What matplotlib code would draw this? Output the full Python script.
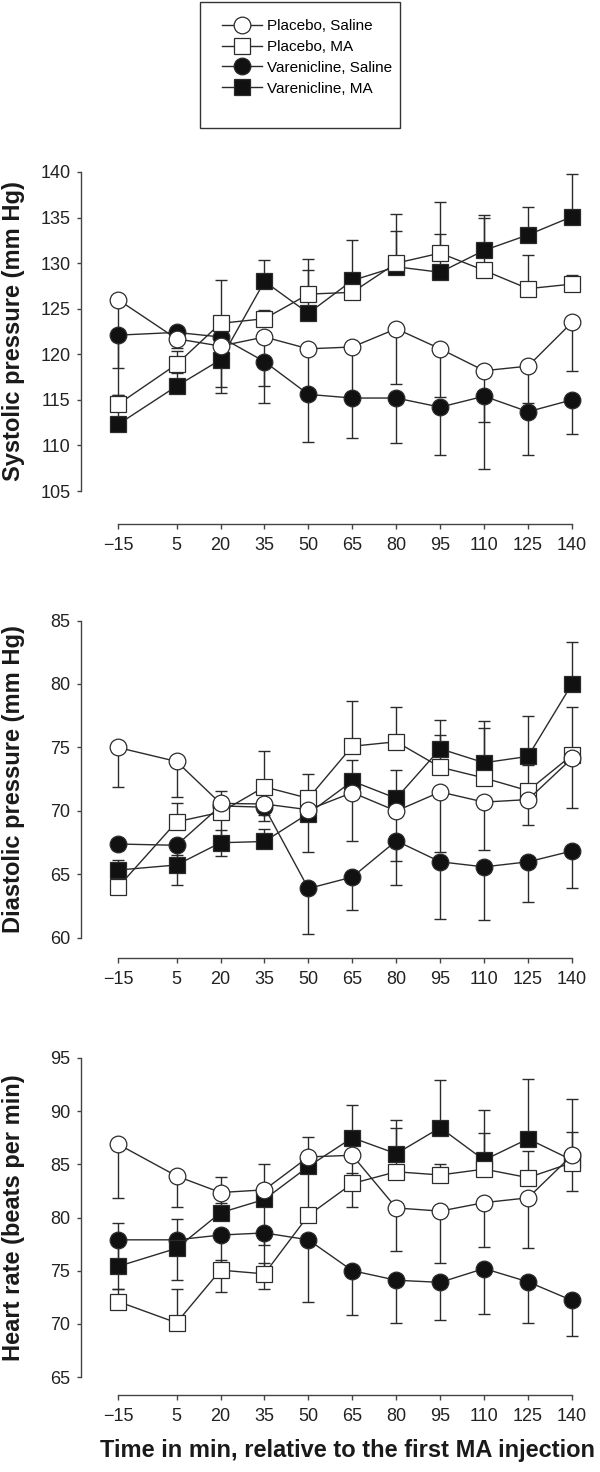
import numpy as np
import matplotlib
matplotlib.use("Agg")
import matplotlib.pyplot as plt
from matplotlib.lines import Line2D
from matplotlib.patches import Rectangle

plt.rcParams['font.family'] = ['Liberation Sans', 'DejaVu Sans']

# ---------------- data ----------------
time = [-15, 5, 20, 35, 50, 65, 80, 95, 110, 125, 140]
labels = ["Placebo, Saline", "Placebo, MA", "Varenicline, Saline", "Varenicline, MA"]

# systolic pressure (mm Hg)
sys_ps = [126.0, 121.7, 120.9, 121.9, 120.6, 120.8, 122.8, 120.6, 118.2, 118.7, 123.5]
sys_ps_err = [7.5, 1.0, 4.5, 5.4, 5.0, 5.0, 6.1, 5.3, 5.6, 4.0, 5.3]
sys_pm = [114.5, 118.9, 123.4, 123.9, 126.6, 126.8, 130.0, 131.1, 129.2, 127.2, 127.7]
sys_pm_err = [1.0, 1.5, 4.75, 1.0, 3.8, 1.0, 3.5, 5.65, 5.7, 3.7, 1.0]
sys_vs = [122.1, 122.4, 121.9, 119.2, 115.6, 115.2, 115.2, 114.2, 115.4, 113.7, 115.0]
sys_vs_err = [6.6, 1.0, 6.2, 4.5, 5.2, 4.4, 4.9, 5.2, 8.0, 4.8, 3.8]
sys_vm = [112.3, 116.5, 119.4, 128.0, 124.5, 128.1, 129.6, 129.0, 131.4, 133.1, 135.1]
sys_vm_err = [1.5, 1.5, 1.5, 2.3, 4.75, 4.4, 5.8, 4.2, 3.9, 3.1, 4.65]

# diastolic pressure (mm Hg)
dia_ps = [75.0, 73.9, 70.6, 70.55, 70.1, 71.45, 70.0, 71.5, 70.7, 70.9, 74.15]
dia_ps_err = [3.1, 2.8, 0.5, 0.85, 3.3, 3.85, 3.9, 4.7, 3.8, 2.0, 3.95]
dia_pm = [64.0, 69.15, 69.9, 71.9, 71.0, 75.1, 75.45, 73.45, 72.6, 71.6, 74.4]
dia_pm_err = [0.5, 1.45, 1.7, 2.8, 1.9, 3.6, 2.75, 2.55, 3.9, 2.0, 3.8]
dia_vs = [67.4, 67.3, 70.4, 70.3, 63.9, 64.8, 67.65, 66.0, 65.6, 66.0, 66.85]
dia_vs_err = [0.5, 3.1, 3.95, 1.05, 3.6, 2.6, 3.45, 4.5, 4.2, 3.2, 2.95]
dia_vm = [65.35, 65.75, 67.5, 67.6, 69.8, 72.35, 71.0, 74.9, 73.8, 74.3, 80.0]
dia_vm_err = [0.8, 0.8, 1.0, 1.0, 1.0, 1.65, 2.2, 2.3, 3.25, 3.2, 3.3]

# heart rate (beats per min)
hr_ps = [86.9, 83.9, 82.35, 82.6, 85.7, 85.85, 80.9, 80.6, 81.4, 81.85, 85.85]
hr_ps_err = [5.05, 2.95, 1.0, 5.2, 1.0, 4.9, 4.05, 4.85, 4.2, 4.7, 3.35]
hr_pm = [72.1, 70.1, 75.05, 74.7, 80.2, 83.2, 84.3, 84.0, 84.55, 83.75, 85.15]
hr_pm_err = [1.2, 3.2, 1.0, 1.0, 7.4, 1.0, 4.15, 1.0, 3.35, 2.5, 2.85]
hr_vs = [77.9, 77.9, 78.35, 78.55, 77.9, 75.0, 74.1, 73.9, 75.2, 73.95, 72.2]
hr_vs_err = [4.6, 3.8, 5.35, 5.25, 5.8, 4.2, 4.05, 3.55, 4.3, 3.9, 3.35]
hr_vm = [75.4, 77.1, 80.45, 81.7, 84.8, 87.5, 86.0, 88.45, 85.4, 87.4, 85.4]
hr_vm_err = [4.05, 2.75, 3.35, 3.3, 1.0, 3.05, 3.15, 4.45, 4.7, 5.6, 5.7]

panels = [
    ("Systolic pressure (mm Hg)", (105, 140), sys_ps, sys_ps_err, sys_pm, sys_pm_err,
     sys_vs, sys_vs_err, sys_vm, sys_vm_err),
    ("Diastolic pressure (mm Hg)", (60, 85), dia_ps, dia_ps_err, dia_pm, dia_pm_err,
     dia_vs, dia_vs_err, dia_vm, dia_vm_err),
    ("Heart rate (beats per min)", (65, 95), hr_ps, hr_ps_err, hr_pm, hr_pm_err,
     hr_vs, hr_vs_err, hr_vm, hr_vm_err),
]

# ---------------- layout (pixels) ----------------
W, H = 600, 1472
x_left, x_right = 118, 572
# (top pixel of ymax, bottom pixel of ymin, x-axis drop in px)
rows = [(172, 491, 33), (620.5, 938, 20), (1058, 1377, 18)]

ink = '#2b2b2b'
black = '#111111'

fig = plt.figure(figsize=(W / 100, H / 100), dpi=100)

for (ylab, ylim, ps, ps_e, pm, pm_e, vs, vs_e, vm, vm_e), (top, bot, drop) in zip(panels, rows):
    ax = fig.add_axes([x_left / W, 1 - bot / H, (x_right - x_left) / W, (bot - top) / H])
    ax.set_xlim(-15, 140)
    ax.set_ylim(*ylim)
    z = np.zeros(len(time))

    ebkw = dict(fmt='none', ecolor=ink, elinewidth=1.0, capsize=4, capthick=1.0, zorder=1)
    for y, e, up in [(vs, vs_e, False), (vm, vm_e, True), (pm, pm_e, True), (ps, ps_e, False)]:
        yerr = [z, e] if up else [e, z]
        eb = ax.errorbar(time, y, yerr=yerr, **ebkw)
        for art in eb.lines[1] + eb.lines[2]:
            art.set_clip_on(False)

    style = [
        (vs, 'o', black, 12),
        (vm, 's', black, 11),
        (pm, 's', 'white', 11),
        (ps, 'o', 'white', 12),
    ]
    for i, (y, m, fc, ms) in enumerate(style):
        ax.plot(time, y, color=ink, lw=1.0, marker=m, ms=ms, mfc=fc, mec=ink,
                mew=0.9, zorder=3 + i, clip_on=False)

    for s in ['top', 'right']:
        ax.spines[s].set_visible(False)
    ax.spines['left'].set_position(('outward', (x_left - 81) * 0.72))
    ax.spines['bottom'].set_position(('outward', drop * 0.72))
    ax.spines['left'].set_bounds(*ylim)
    ax.spines['bottom'].set_bounds(-15, 140)
    for s in ['left', 'bottom']:
        ax.spines[s].set_color('#444444')
        ax.spines[s].set_linewidth(1.0)

    ax.set_xticks(time)
    ax.set_yticks(np.arange(ylim[0], ylim[1] + 1, 5))
    ax.tick_params(axis='y', length=2.6, width=1.0, color='#444444', pad=5,
                   labelsize=13, labelcolor='#222222')
    ax.tick_params(axis='x', length=3.6, width=1.0, color='#444444', pad=6,
                   labelsize=13, labelcolor='#222222')

    fig.text(14 / W, 1 - (top + bot) / 2 / H, ylab, rotation=90, ha='center', va='center',
             fontsize=17, fontweight='bold', color='#1a1a1a')

fig.text(348 / W, 1 - 1451 / H, "Time in min, relative to the first MA injection",
         ha='center', va='center', fontsize=17, fontweight='bold', color='#1a1a1a')

# legend: frame drawn by hand, it has extra room below the entries
fig.patches.append(Rectangle((200 / W, 1 - 128 / H), 200 / W, 126 / H,
                             transform=fig.transFigure, fill=False,
                             edgecolor='#333333', lw=1.0))
handles = [
    Line2D([], [], color=ink, lw=1.0, marker='o', ms=12, mfc='white', mec=ink, mew=0.9),
    Line2D([], [], color=ink, lw=1.0, marker='s', ms=11, mfc='white', mec=ink, mew=0.9),
    Line2D([], [], color=ink, lw=1.0, marker='o', ms=12, mfc=black, mec=ink, mew=0.9),
    Line2D([], [], color=ink, lw=1.0, marker='s', ms=11, mfc=black, mec=ink, mew=0.9),
]
fig.legend(handles, labels, loc='upper left', bbox_to_anchor=(222 / W, 1 - 19 / H),
           fontsize=11, frameon=False, handlelength=2.6, borderpad=0, borderaxespad=0,
           labelspacing=0.45, handletextpad=0.35)

fig.savefig("out.png", dpi=100)
